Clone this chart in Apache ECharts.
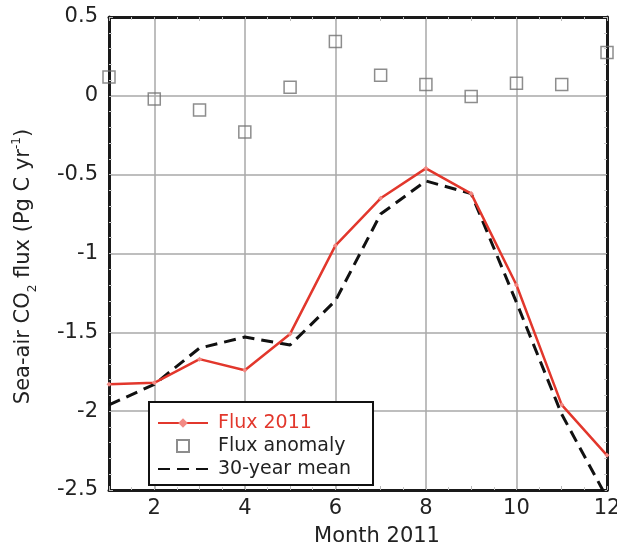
<!DOCTYPE html>
<html>
<head>
<meta charset="utf-8">
<script src="https://cdn.jsdelivr.net/npm/echarts@6/dist/echarts.min.js"></script>
<style>html,body{margin:0;padding:0;background:#fff}#c{width:617px;height:547px}</style>
</head>
<body>
<div id="c"></div>
<script>
const months = [1,2,3,4,5,6,7,8,9,10,11,12];
const flux2011 = [-1.83,-1.82,-1.67,-1.74,-1.51,-0.95,-0.65,-0.46,-0.62,-1.20,-1.96,-2.28];
const fluxAnomaly = [0.12,-0.02,-0.09,-0.23,0.055,0.345,0.13,0.072,-0.005,0.08,0.072,0.275];
const mean30 = [-1.96,-1.83,-1.60,-1.53,-1.58,-1.30,-0.75,-0.54,-0.62,-1.31,-2.02,-2.55];
const yTicks = [-2.5,-2,-1.5,-1,-0.5,0,0.5];
const xLabelMonths = [2,4,6,8,10,12];

const FONT = '"DejaVu Sans", sans-serif';
const pair = (xs, ys) => xs.map((x,i)=>[x, ys[i]]);

const chart = echarts.init(document.getElementById('c'), null, {renderer:'canvas'});
const tickStyle = {show:true, inside:true, length:4, lineStyle:{color:'#b8b8b8', width:1}};
const minorTick = (n)=>({show:true, splitNumber:n, length:3, lineStyle:{color:'#c8c8c8', width:1}});
const frame = {show:true, onZero:false, lineStyle:{color:'#1a1a1a', width:3}};

chart.setOption({
  animation:false,
  backgroundColor:'#fff',
  grid:{left:109, top:17, right:10, bottom:57, containLabel:false, outerBoundsMode:'none'},
  legend:{
    orient:'vertical', left:149, top:402,
    padding:[11,22,6,8], itemGap:3, itemWidth:50, itemHeight:12,
    borderColor:'#111', borderWidth:2, backgroundColor:'#fff',
    symbolKeepAspect:true,
    textStyle:{fontFamily:FONT, fontSize:19, color:'#222', lineHeight:20, padding:[0,0,0,5]},
    data:[
      {name:'Flux 2011', textStyle:{color:'#e2372c'}},
      {name:'Flux anomaly', icon:'path://M0,0L10,0L10,10L0,10Z'},
      {name:'30-year mean'}
    ]
  },
  xAxis:[
    {type:'value', position:'bottom', min:1, max:12, interval:1,
     name:'Month 2011', nameLocation:'middle', nameGap:36,
     nameTextStyle:{fontFamily:FONT, fontSize:21, color:'#222', padding:[0,0,0,38]},
     axisLine:frame, axisTick:tickStyle, minorTick:minorTick(2),
     axisLabel:{margin:8, fontFamily:FONT, fontSize:21, color:'#222',
       formatter:v=> xLabelMonths.indexOf(v)>=0 ? String(v) : ''},
     splitLine:{show:true, lineStyle:{color:['rgba(0,0,0,0)','#a9a9a9'], width:1.5}}},
    {type:'value', position:'top', min:1, max:12, interval:1,
     axisLine:frame, axisTick:tickStyle, minorTick:minorTick(2),
     axisLabel:{show:false}, splitLine:{show:false}}
  ],
  yAxis:[
    {type:'value', position:'left', min:-2.5, max:0.5, interval:0.5,
     name:'{a|Sea-air CO}{s|2}{a| flux (Pg C yr}{p|-1}{a|)}',
     nameLocation:'middle', nameGap:72,
     nameTextStyle:{fontFamily:FONT, fontSize:21, color:'#222', padding:[0,26,0,0],
       rich:{
         a:{fontFamily:FONT, fontSize:21, color:'#222', lineHeight:26},
         s:{fontFamily:FONT, fontSize:12, color:'#222', verticalAlign:'bottom', lineHeight:12, padding:[0,0,-2,0]},
         p:{fontFamily:FONT, fontSize:12, color:'#222', verticalAlign:'top', lineHeight:12}
       }},
     axisLine:frame, axisTick:tickStyle, minorTick:minorTick(5),
     axisLabel:{margin:11, fontFamily:FONT, fontSize:21, color:'#222',
       customValues:yTicks, formatter:v=>String(v)},
     splitLine:{show:true, lineStyle:{color:'#a9a9a9', width:1.5}}},
    {type:'value', position:'right', min:-2.5, max:0.5, interval:0.5,
     axisLine:frame, axisTick:tickStyle, minorTick:minorTick(5),
     axisLabel:{show:false}, splitLine:{show:false}}
  ],
  series:[
    {name:'Flux 2011', type:'line', xAxisIndex:0, yAxisIndex:0,
     data:pair(months, flux2011), symbol:'diamond', symbolSize:5, showSymbol:true,
     itemStyle:{color:'#f28a84'},
     lineStyle:{color:'#e2372c', width:2.5}, z:4},
    {name:'30-year mean', type:'line', xAxisIndex:0, yAxisIndex:0,
     data:pair(months, mean30), symbol:'none',
     itemStyle:{color:'rgba(0,0,0,0)'},
     lineStyle:{color:'#111', width:3, type:[12,7]}, z:3},
    {name:'Flux anomaly', type:'scatter', xAxisIndex:0, yAxisIndex:0,
     data:pair(months, fluxAnomaly), symbol:'rect', symbolSize:12,
     itemStyle:{color:'rgba(255,255,255,0)', borderColor:'#707070', borderWidth:1.5}, z:5}
  ]
});
</script>
</body>
</html>
